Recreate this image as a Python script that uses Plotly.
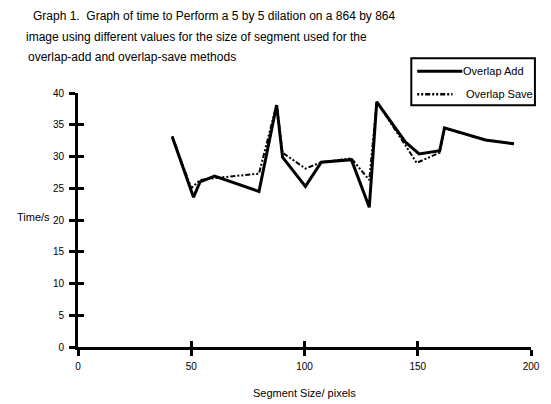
import plotly.graph_objects as go

# Data
segment_add = [41.6, 51.0, 53.9, 60.3, 79.9, 87.7, 90.3, 100.4, 107.4, 120.7, 128.6, 131.9, 144.5, 150.6, 159.7, 161.8, 179.9, 192.5]
time_add = [33.1, 23.6, 26.0, 26.9, 24.5, 38.1, 29.9, 25.3, 29.1, 29.5, 22.0, 38.6, 32.3, 30.4, 30.9, 34.5, 32.6, 32.0]

segment_save = [41.6, 50.0, 53.9, 60.3, 79.9, 87.7, 90.3, 100.4, 107.4, 120.7, 128.6, 131.9, 144.5, 149.5, 159.7, 161.8, 179.9, 192.5]
time_save = [33.2, 25.0, 26.3, 26.6, 27.3, 38.2, 30.6, 28.1, 29.1, 29.7, 26.3, 38.6, 31.8, 29.0, 30.6, 34.4, 32.6, 32.0]

x_ticks = [0, 50, 100, 150, 200]
y_ticks = [0, 5, 10, 15, 20, 25, 30, 35, 40]

title_lines = [
    "Graph 1.  Graph of time to Perform a 5 by 5 dilation on a 864 by 864",
    "image using different values for the size of segment used for the",
    "overlap-add and overlap-save methods",
]

FONT = "Liberation Sans, Arial, sans-serif"
W, H = 551, 404
L, R, T, B = 78.3, 11, 92.7, 57.3
PW, PH = W - L - R, H - T - B


def px(x):
    return (x - L) / PW


def py(y):
    return (H - B - y) / PH


DASH = "2px,2px,2px,2px,5px,2px"

fig = go.Figure()
fig.add_trace(go.Scatter(x=segment_add, y=time_add, mode="lines", name="Overlap Add",
                         line=dict(color="black", width=3), showlegend=False))
fig.add_trace(go.Scatter(x=segment_save, y=time_save, mode="lines", name="Overlap Save",
                         line=dict(color="black", width=2, dash=DASH),
                         showlegend=False))
# dummy trace to activate overlay axes (for crossing tick marks)
fig.add_trace(go.Scatter(x=[None], y=[None], xaxis="x2", yaxis="y2", showlegend=False,
                         hoverinfo="skip"))

axis_common = dict(showgrid=False, zeroline=False, color="black")
fig.update_layout(
    width=W, height=H,
    margin=dict(l=L, r=R, t=T, b=B, pad=0),
    paper_bgcolor="white", plot_bgcolor="white",
    font=dict(family=FONT, color="black", size=11),
    xaxis=dict(range=[0, 200], tickvals=x_ticks, ticks="outside", ticklen=6, tickwidth=3,
               tickcolor="black", showline=True, linewidth=3, linecolor="black",
               tickfont=dict(size=10), ticklabelstandoff=2, **axis_common),
    yaxis=dict(range=[0, 40], tickvals=y_ticks, ticks="outside", ticklen=6, tickwidth=3,
               tickcolor="black", showline=True, linewidth=3, linecolor="black",
               tickfont=dict(size=10), ticklabelstandoff=3, **axis_common),
    xaxis2=dict(range=[0, 200], tickvals=x_ticks, ticks="inside", ticklen=6, tickwidth=3,
                tickcolor="black", showticklabels=False, overlaying="x", showline=False,
                **axis_common),
    yaxis2=dict(range=[0, 40], tickvals=y_ticks, ticks="inside", ticklen=6, tickwidth=3,
                tickcolor="black", showticklabels=False, overlaying="y", showline=False,
                **axis_common),
)

annotations = []
title_pos = [(30, 16), (23, 37), (25, 57)]
for text, (xp, yp) in zip(title_lines, title_pos):
    annotations.append(dict(text=text, x=px(xp), y=py(yp), xref="paper", yref="paper",
                            xanchor="left", yanchor="middle", showarrow=False,
                            font=dict(size=12)))
annotations.append(dict(text="Time/s", x=px(14), y=py(217), xref="paper", yref="paper",
                        xanchor="left", yanchor="middle", showarrow=False, font=dict(size=11)))
annotations.append(dict(text="Segment Size/ pixels", x=px(309), y=py(393), xref="paper",
                        yref="paper", xanchor="center", yanchor="middle", showarrow=False,
                        font=dict(size=11)))
# manual legend
annotations.append(dict(text="Overlap Add", x=px(469), y=py(71), xref="paper", yref="paper",
                        xanchor="left", yanchor="middle", showarrow=False, font=dict(size=11)))
annotations.append(dict(text="Overlap Save", x=px(472), y=py(94), xref="paper", yref="paper",
                        xanchor="left", yanchor="middle", showarrow=False, font=dict(size=11)))
fig.update_layout(annotations=annotations)

shapes = [
    dict(type="rect", xref="paper", yref="paper", x0=px(418), x1=px(544), y0=py(58), y1=py(105),
         line=dict(color="black", width=2), fillcolor="white", layer="above"),
    dict(type="line", xref="paper", yref="paper", x0=px(424), x1=px(470), y0=py(71), y1=py(71),
         line=dict(color="black", width=3)),
    dict(type="line", xref="paper", yref="paper", x0=px(424), x1=px(460), y0=py(94), y1=py(94),
         line=dict(color="black", width=2.5, dash=DASH)),
]
fig.update_layout(shapes=shapes)

fig.write_html("out.html")
